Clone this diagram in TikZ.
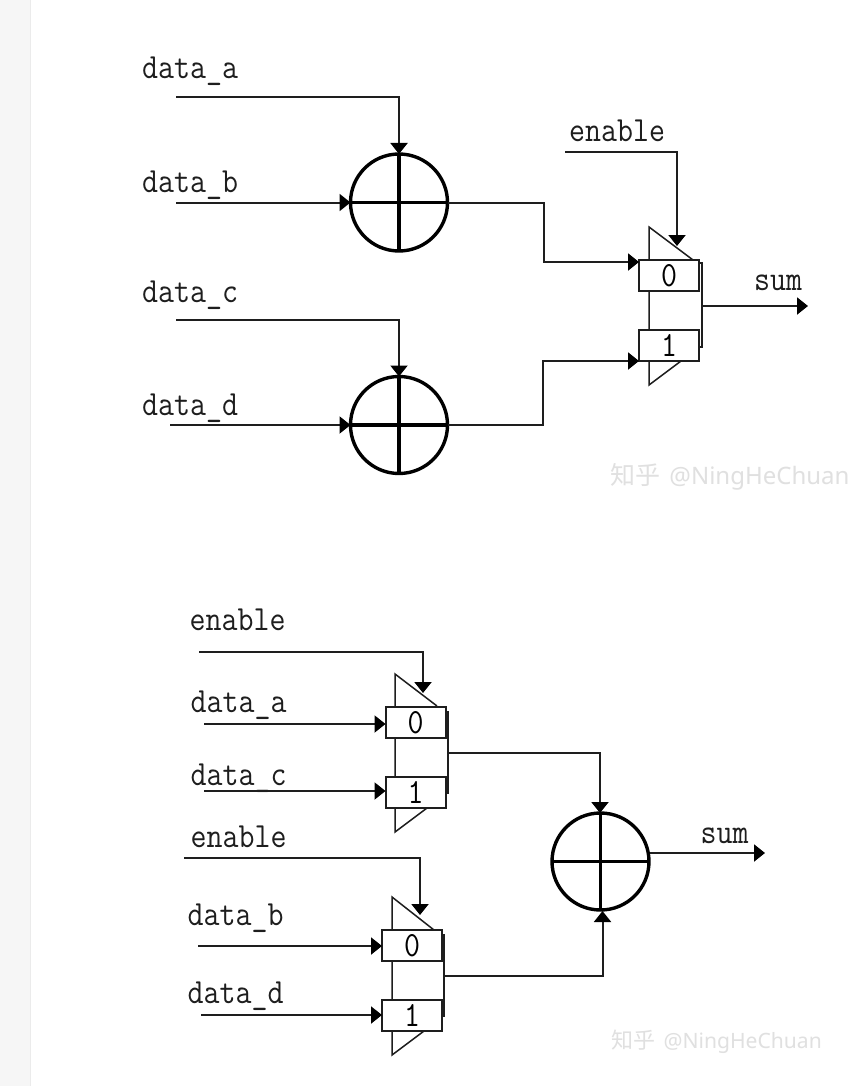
\documentclass[tikz,border=0pt]{standalone}
\usepackage{fontspec}
\usepackage{graphicx}
\newfontfamily\cjkwm{Noto Sans CJK SC}
\newfontfamily\latinwm{Noto Sans}
\usetikzlibrary{arrows.meta,positioning}
\definecolor{ink}{HTML}{1E1E1E}
\definecolor{strip}{HTML}{F6F6F6}
\definecolor{wm}{HTML}{E0E0E0}
\newcommand{\tallt}[1]{\scalebox{1}[1.14]{#1}}
\tikzset{
  wire/.style={draw=ink,line width=2pt},
  arr/.style={wire,-{Triangle[length=11pt,width=17pt,color=black]}},
  thinw/.style={draw=ink,line width=1.5pt},
  heavy/.style={draw=black,line width=3.2pt},
  addr/.style={circle,draw=black,line width=3.4pt,minimum size=97pt,inner sep=0pt,outer sep=0pt},
  muxbox/.style={rectangle,draw=ink,line width=2pt,fill=white,minimum width=60pt,minimum height=31pt,inner sep=0pt,outer sep=0pt,font=\fontsize{31}{32}\selectfont\ttfamily},
  lab/.style={anchor=base west,inner sep=0pt,text=ink,font=\fontsize{31}{32}\selectfont\ttfamily},
  wmark/.style={anchor=base west,inner sep=0pt,text=wm}
}
\newcommand{\sumcross}[1]{%
  \draw[heavy] (#1.north) -- (#1.south);
  \draw[heavy] (#1.west) -- (#1.east);}
\begin{document}
\begin{tikzpicture}[x=1pt,y=-1pt]
\useasboundingbox (0,0) rectangle (858,1086);
\fill[white] (0,0) rectangle (858,1086);
\fill[strip] (0,0) rectangle (30,1086);
\draw[line width=1pt,draw=black!8] (30,0) -- (30,1086);

% ---------- top diagram ----------
\node[addr] (c1) at (399,202.5) {};
\node[addr] (c2) at (399,425) {};
\sumcross{c1}
\sumcross{c2}

% mux
\draw[thinw] (693,260) -- (649,227) -- (649,385) -- (681,361);
\draw[wire] (699,263) -- (701.5,263) -- (701.5,347) -- (699,347);
\node[muxbox] (t0) at (669,275.5) {\tallt{0}};
\node[muxbox] (t1) at (669,345.5) {\tallt{1}};

\coordinate (ia) at (176,97);
\coordinate (ib) at (176,202.5);
\coordinate (ic) at (176,320);
\coordinate (id) at (170,425);
\coordinate (ien) at (565,152);
\coordinate (ten) at (677,246);
\coordinate (tm1) at (544,202.5);
\coordinate (tm2) at (543,361);
\coordinate (tin0) at (639,262);
\coordinate (tin1) at (639,361);
\coordinate (tout) at (702,306);
\coordinate (tsum) at (808,306);

\draw[arr] (ia) -| (c1.north);
\draw[arr] (ib) -- (c1.west);
\draw[arr] (ic) -| (c2.north);
\draw[arr] (id) -- (c2.west);
\draw[arr] (ien) -| (ten);
\draw[arr] (c1.east) -- (tm1) |- (tin0);
\draw[arr] (c2.east) -| (tm2) -- (tin1);
\draw[arr] (tout) -- (tsum);

\node[lab] (la) at (142,79) {\tallt{data\_a}};
\node[lab] (lb) at (142,193) {\tallt{data\_b}};
\node[lab] (lc) at (142,302) {\tallt{data\_c}};
\node[lab] (ld) at (142,415) {\tallt{data\_d}};
\node[lab] (le) at (569,142) {\tallt{enable}};
\node[lab] (ls) at (754,290) {\tallt{sum}};
\node[wmark,font=\fontsize{24}{25}\selectfont] (w1) at (610,484) {{\cjkwm\fontsize{25}{25}\selectfont 知乎} \hspace{2pt}{\latinwm @NingHeChuan}};

% ---------- bottom diagram ----------
\node[addr] (c3) at (600.5,861.5) {};
\sumcross{c3}

\draw[thinw] (437,706) -- (395,674) -- (395,832) -- (427,808);
\draw[wire] (446,712) -- (448,712) -- (448,793) -- (446,793);
\node[muxbox] (a0) at (415.5,722.5) {\tallt{0}};
\node[muxbox] (a1) at (415.5,792.5) {\tallt{1}};

\draw[thinw] (434,930) -- (392,897) -- (392,1055) -- (424,1031);
\draw[wire] (442,935) -- (444,935) -- (444,1016) -- (442,1016);
\node[muxbox] (b0) at (412,945.5) {\tallt{0}};
\node[muxbox] (b1) at (412,1015.5) {\tallt{1}};

\coordinate (ben1) at (199,652);
\coordinate (ten1) at (423,693);
\coordinate (bda) at (204,724);
\coordinate (bdc) at (204,791);
\coordinate (ben2) at (184,858);
\coordinate (ten2) at (420,915);
\coordinate (bdb) at (198,946);
\coordinate (bdd) at (201,1015);
\coordinate (o1) at (448,753);
\coordinate (o2) at (444,976);
\coordinate (bsumfrom) at (650,853);
\coordinate (bsum) at (765,853);
\coordinate (in3a) at (600,813);
\coordinate (in3b) at (602.5,911);

\draw[arr] (ben1) -| (ten1);
\draw[arr] (bda) -- (a0.west |- bda);
\draw[arr] (bdc) -- (a1.west |- bdc);
\draw[arr] (ben2) -| (ten2);
\draw[arr] (bdb) -- (b0.west |- bdb);
\draw[arr] (bdd) -- (b1.west |- bdd);
\draw[arr] (o1) -| (in3a);
\draw[arr] (o2) -| (in3b);
\draw[arr] (bsumfrom) -- (bsum);

\node[lab] (l1) at (189.5,630) {\tallt{enable}};
\node[lab] (l2) at (190.5,712) {\tallt{data\_a}};
\node[lab] (l3) at (190.5,785) {\tallt{data\_c}};
\node[lab] (l4) at (190.5,847) {\tallt{enable}};
\node[lab] (l5) at (187.5,925) {\tallt{data\_b}};
\node[lab] (l6) at (187.5,1003) {\tallt{data\_d}};
\node[lab] (l7) at (700.5,843) {\tallt{sum}};
\node[wmark,font=\fontsize{21.1}{22}\selectfont] (w2) at (611,1048) {{\cjkwm\fontsize{22}{22}\selectfont 知乎} \hspace{2pt}{\latinwm @NingHeChuan}};
\end{tikzpicture}
\end{document}
